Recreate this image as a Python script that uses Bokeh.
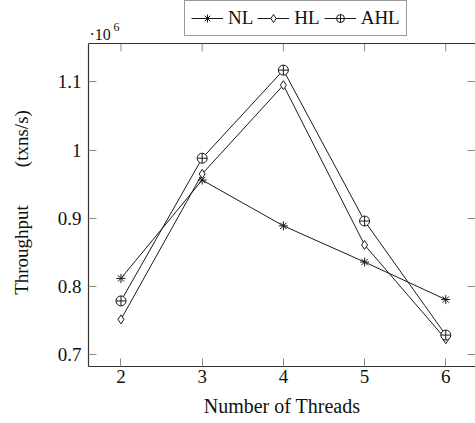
import math

from bokeh.embed import file_html
from bokeh.models import (ColumnDataSource, FixedTicker, Label, Legend,
                          LegendItem, LinearAxis, Range1d, Span,
                          CustomJSTickFormatter)
from bokeh.plotting import figure
from bokeh.resources import INLINE

# Throughput (transactions per second) by number of worker threads
threads = [2, 3, 4, 5, 6]
nl_tps = [812000, 956000, 889000, 836000, 781000]
hl_tps = [752000, 965000, 1095000, 861000, 723000]
ahl_tps = [779000, 988000, 1117000, 896000, 729000]

scale = 1e6
y_ticks = [0.7, 0.8, 0.9, 1.0, 1.1]
y_tick_labels = ["0.7", "0.8", "0.9", "1", "1.1"]

# axis box limits (in units of 10^6 txns/s); the plotting area extends above
# the box so that the legend and the multiplier can sit over it
Y_LO, Y_HI = 0.683, 1.156
PX_PER_UNIT = 683.0
HEADROOM_PX = 43

FONT = "Liberation Serif"
INK = "#1a1a1a"
TICK = "#8a8a8a"
FRAME = "#333333"

src = ColumnDataSource(dict(
    x=threads,
    nl=[v / scale for v in nl_tps],
    hl=[v / scale for v in hl_tps],
    ahl=[v / scale for v in ahl_tps],
))

p = figure(width=475, height=423, output_backend="svg", toolbar_location=None,
           x_range=Range1d(1.6, 6.366),
           y_range=Range1d(Y_LO, Y_HI + HEADROOM_PX / PX_PER_UNIT),
           min_border_left=88, min_border_right=0, min_border_top=0,
           min_border_bottom=57, x_axis_location=None, y_axis_location=None)
p.title.text = ""
p.outline_line_color = None
p.grid.visible = False
p.background_fill_color = "white"
p.border_fill_color = "white"


def style_axis(ax, show_labels=True, show_line=True):
    ax.major_tick_in = 8
    ax.major_tick_out = 0
    ax.minor_tick_line_color = None
    ax.major_tick_line_color = TICK
    ax.major_tick_line_width = 1
    ax.axis_line_color = FRAME if show_line else None
    ax.axis_line_width = 1.2
    ax.major_label_text_font = FONT
    ax.major_label_text_font_size = "19px"
    ax.major_label_text_color = "#111111"
    ax.axis_label_text_font = FONT
    ax.axis_label_text_font_style = "normal"
    ax.axis_label_text_color = "#111111"
    if not show_labels:
        ax.formatter = CustomJSTickFormatter(code="return ''")
        ax.major_label_standoff = 0


xb = LinearAxis(ticker=FixedTicker(ticks=threads), axis_label="Number of Threads")
style_axis(xb)
xb.major_label_standoff = 3
xb.axis_label_standoff = 9
xb.axis_label_text_font_size = "20px"
p.add_layout(xb, "below")

# the label is centred on the whole plotting height, so trailing em spaces
# (held in place by a zero-width word joiner) move the words down to the
# middle of the axis box
yl = LinearAxis(ticker=FixedTicker(ticks=y_ticks), bounds=(Y_LO, Y_HI),
                major_label_overrides={t: s for t, s in zip(y_ticks, y_tick_labels)},
                axis_label="Throughput\u2003\u2003(txns/s)\u2003\u2003\u2060")
style_axis(yl)
yl.major_label_standoff = 7
yl.axis_label_standoff = 23
yl.axis_label_text_font_size = "19px"
p.add_layout(yl, "left")

yr = LinearAxis(ticker=FixedTicker(ticks=y_ticks), bounds=(Y_LO, Y_HI))
style_axis(yr, show_labels=False, show_line=False)
p.add_layout(yr, "right")

# top edge of the axis box with inward ticks
p.add_layout(Span(location=Y_HI, dimension="width", line_color=FRAME,
                  line_width=1.2))
p.ray(x=threads, y=[Y_HI] * len(threads), length=8, length_units="screen",
      angle=-math.pi / 2, line_color=TICK, line_width=1)

nl_line = p.line("x", "nl", source=src, line_color=INK, line_width=1)
nl_mark = p.scatter("x", "nl", source=src, marker="asterisk", size=9,
                    line_color=INK, line_width=1)

hl_line = p.line("x", "hl", source=src, line_color=INK, line_width=1)
hl_mark = p.scatter("x", "hl", source=src, marker="diamond", size=9,
                    line_color=INK, fill_color="white", line_width=1)

ahl_line = p.line("x", "ahl", source=src, line_color=INK, line_width=1)
ahl_mark = p.scatter("x", "ahl", source=src, marker="circle_cross", size=10,
                     line_color=INK, fill_color="white", line_width=1)

legend = Legend(items=[
    LegendItem(label="NL", renderers=[nl_line, nl_mark]),
    LegendItem(label="HL", renderers=[hl_line, hl_mark]),
    LegendItem(label="AHL", renderers=[ahl_line, ahl_mark]),
], orientation="horizontal", location=(96, 330))
legend.label_text_font = FONT
legend.label_text_font_size = "19px"
legend.label_text_color = "#111111"
legend.glyph_width = 32
legend.glyph_height = 20
legend.label_height = 20
legend.label_standoff = 5
legend.spacing = 4
legend.padding = 6
legend.margin = 0
legend.border_line_color = FRAME
legend.border_line_width = 1
legend.background_fill_alpha = 1
p.add_layout(legend, "center")

# axis multiplier over the top-left corner of the box
p.add_layout(Label(x=1, y=332, x_units="screen", y_units="screen",
                   text="·10", text_align="left", text_baseline="alphabetic",
                   text_font=FONT, text_font_size="16px", text_color="#111111"))
p.add_layout(Label(x=25, y=340, x_units="screen", y_units="screen",
                   text="6", text_align="left", text_baseline="alphabetic",
                   text_font=FONT, text_font_size="12px", text_color="#111111"))

open("out.html", "w").write(file_html(p, INLINE))
